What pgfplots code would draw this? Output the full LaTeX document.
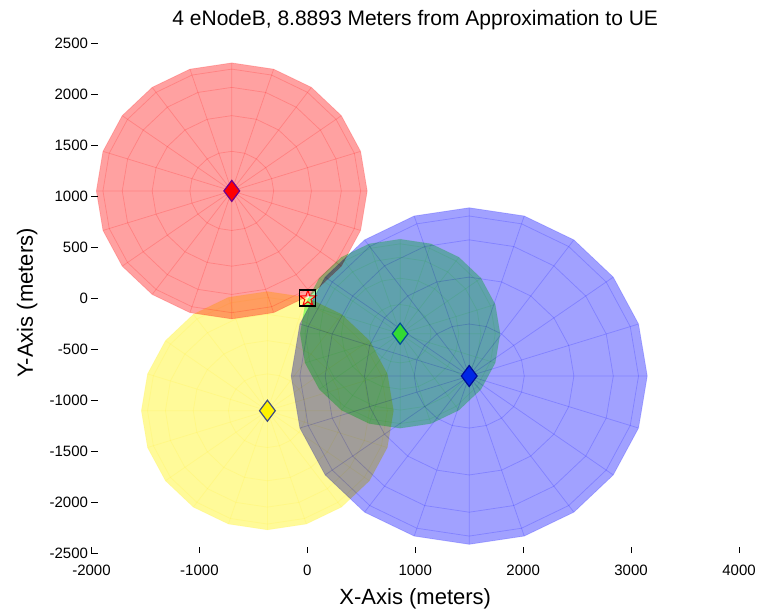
\documentclass[border=0pt]{standalone}
\usepackage{fontspec}
\setmainfont{Liberation Sans}
\usepackage{pgfplots}
\usepackage{pgfplotstable}
\pgfplotsset{compat=1.18}

\definecolor{redEdge}{rgb}{0.45,0,0.55}
\definecolor{blueFill}{rgb}{0,0.15,0.9}
\definecolor{blueEdge}{rgb}{0,0.05,0.6}
\definecolor{greenFill}{rgb}{0.2,0.85,0.2}
\definecolor{greenEdge}{rgb}{0,0.3,0.6}
\definecolor{yellowFill}{rgb}{1,0.95,0}
\definecolor{yellowEdge}{rgb}{0.25,0.3,0.5}
\definecolor{greenTint}{rgb}{0.6,1,0.68}

\pgfdeclareplotmark{pentastar}{%
  \pgfpathmoveto{\pgfpointpolar{90}{\pgfplotmarksize}}%
  \pgfpathlineto{\pgfpointpolar{126}{0.382\pgfplotmarksize}}%
  \pgfpathlineto{\pgfpointpolar{162}{\pgfplotmarksize}}%
  \pgfpathlineto{\pgfpointpolar{198}{0.382\pgfplotmarksize}}%
  \pgfpathlineto{\pgfpointpolar{234}{\pgfplotmarksize}}%
  \pgfpathlineto{\pgfpointpolar{270}{0.382\pgfplotmarksize}}%
  \pgfpathlineto{\pgfpointpolar{306}{\pgfplotmarksize}}%
  \pgfpathlineto{\pgfpointpolar{342}{0.382\pgfplotmarksize}}%
  \pgfpathlineto{\pgfpointpolar{18}{\pgfplotmarksize}}%
  \pgfpathlineto{\pgfpointpolar{54}{0.382\pgfplotmarksize}}%
  \pgfpathclose
  \pgfusepathqstroke}

% rings of each disc: angle (deg) and ring radius (m), polar data
\pgfplotstableread{
a rA rB rC rD rE bA bB bC bD bE gA gB gC gD gE yA yB yC yD yE
0   1255 1194 1015 738 388 1650 1569 1335 970 510 926 881 749 544 286 1168 1111 945 687 361
18  1255 1194 1015 738 388 1650 1569 1335 970 510 926 881 749 544 286 1168 1111 945 687 361
36  1255 1194 1015 738 388 1650 1569 1335 970 510 926 881 749 544 286 1168 1111 945 687 361
54  1255 1194 1015 738 388 1650 1569 1335 970 510 926 881 749 544 286 1168 1111 945 687 361
72  1255 1194 1015 738 388 1650 1569 1335 970 510 926 881 749 544 286 1168 1111 945 687 361
90  1255 1194 1015 738 388 1650 1569 1335 970 510 926 881 749 544 286 1168 1111 945 687 361
108 1255 1194 1015 738 388 1650 1569 1335 970 510 926 881 749 544 286 1168 1111 945 687 361
126 1255 1194 1015 738 388 1650 1569 1335 970 510 926 881 749 544 286 1168 1111 945 687 361
144 1255 1194 1015 738 388 1650 1569 1335 970 510 926 881 749 544 286 1168 1111 945 687 361
162 1255 1194 1015 738 388 1650 1569 1335 970 510 926 881 749 544 286 1168 1111 945 687 361
180 1255 1194 1015 738 388 1650 1569 1335 970 510 926 881 749 544 286 1168 1111 945 687 361
198 1255 1194 1015 738 388 1650 1569 1335 970 510 926 881 749 544 286 1168 1111 945 687 361
216 1255 1194 1015 738 388 1650 1569 1335 970 510 926 881 749 544 286 1168 1111 945 687 361
234 1255 1194 1015 738 388 1650 1569 1335 970 510 926 881 749 544 286 1168 1111 945 687 361
252 1255 1194 1015 738 388 1650 1569 1335 970 510 926 881 749 544 286 1168 1111 945 687 361
270 1255 1194 1015 738 388 1650 1569 1335 970 510 926 881 749 544 286 1168 1111 945 687 361
288 1255 1194 1015 738 388 1650 1569 1335 970 510 926 881 749 544 286 1168 1111 945 687 361
306 1255 1194 1015 738 388 1650 1569 1335 970 510 926 881 749 544 286 1168 1111 945 687 361
324 1255 1194 1015 738 388 1650 1569 1335 970 510 926 881 749 544 286 1168 1111 945 687 361
342 1255 1194 1015 738 388 1650 1569 1335 970 510 926 881 749 544 286 1168 1111 945 687 361
360 1255 1194 1015 738 388 1650 1569 1335 970 510 926 881 749 544 286 1168 1111 945 687 361
}\rings

% spokes + outline of each disc (one stroke), polar data
\pgfplotstableread{
s rr rb rg ry
0   1255 1650 926 1168
180 1255 1650 926 1168
198 1255 1650 926 1168
18  1255 1650 926 1168
36  1255 1650 926 1168
216 1255 1650 926 1168
234 1255 1650 926 1168
54  1255 1650 926 1168
72  1255 1650 926 1168
252 1255 1650 926 1168
270 1255 1650 926 1168
90  1255 1650 926 1168
108 1255 1650 926 1168
288 1255 1650 926 1168
306 1255 1650 926 1168
126 1255 1650 926 1168
144 1255 1650 926 1168
324 1255 1650 926 1168
342 1255 1650 926 1168
162 1255 1650 926 1168
180 1255 1650 926 1168
198 1255 1650 926 1168
216 1255 1650 926 1168
234 1255 1650 926 1168
252 1255 1650 926 1168
270 1255 1650 926 1168
288 1255 1650 926 1168
306 1255 1650 926 1168
324 1255 1650 926 1168
342 1255 1650 926 1168
0   1255 1650 926 1168
18  1255 1650 926 1168
36  1255 1650 926 1168
54  1255 1650 926 1168
72  1255 1650 926 1168
90  1255 1650 926 1168
108 1255 1650 926 1168
126 1255 1650 926 1168
144 1255 1650 926 1168
162 1255 1650 926 1168
}\spokes

\pgfplotsset{
  disc/.style={data cs=polar, mark=none, blend mode=multiply, line width=0.75pt},
  redc/.style={disc, shift={(axis direction cs:-700,1050)}},
  bluec/.style={disc, shift={(axis direction cs:1500,-765)}},
  greenc/.style={disc, shift={(axis direction cs:860,-350)}},
  yellowc/.style={disc, shift={(axis direction cs:-370,-1105)}},
}

\begin{document}
\begin{tikzpicture}
\path[use as bounding box] (-91.5pt,-60pt) rectangle (670.5pt,553pt);
\begin{axis}[
  scale only axis, width=647.5pt, height=510pt,
  xmin=-2000, xmax=4000, ymin=-2500, ymax=2500,
  xtick={-2000,-1000,...,4000}, ytick={-2500,-2000,...,2500},
  axis line style={draw=none},
  tick align=inside, xtick pos=left, ytick pos=left,
  major tick length=6pt,
  tick style={black, line width=0.5pt},
  scaled ticks=false,
  /pgf/number format/assume math mode=true,
  /pgf/number format/1000 sep={},
  tick label style={font=\fontsize{15}{18}\selectfont},
  xticklabel style={yshift=-8pt},
  title={4 eNodeB, 8.8893 Meters from Approximation to UE},
  title style={font=\fontsize{21}{25}\selectfont, at={(axis description cs:0.5,1.0216)}, anchor=base},
  xlabel={X-Axis (meters)}, ylabel={Y-Axis (meters)},
  xlabel style={font=\fontsize{22}{26}\selectfont, at={(axis description cs:0.5,-0.101)}, anchor=base},
  ylabel style={font=\fontsize{22}{26}\selectfont, at={(axis description cs:-0.0904,0.49)}, anchor=base},
  clip=false,
]
% red disc
\addplot[redc, fill=red!37!white, draw=none] table[x=a,y=rA]{\rings};
\addplot[redc, draw=red!18!white] table[x=a,y=rB]{\rings};
\addplot[redc, draw=red!18!white] table[x=a,y=rC]{\rings};
\addplot[redc, draw=red!18!white] table[x=a,y=rD]{\rings};
\addplot[redc, draw=red!18!white] table[x=a,y=rE]{\rings};
\addplot[redc, draw=red!18!white] table[x=s,y=rr]{\spokes};
% yellow disc
\addplot[yellowc, fill=yellow!40!white, draw=none] table[x=a,y=yA]{\rings};
\addplot[yellowc, draw=yellow!12!white] table[x=a,y=yB]{\rings};
\addplot[yellowc, draw=yellow!12!white] table[x=a,y=yC]{\rings};
\addplot[yellowc, draw=yellow!12!white] table[x=a,y=yD]{\rings};
\addplot[yellowc, draw=yellow!12!white] table[x=a,y=yE]{\rings};
\addplot[yellowc, draw=yellow!12!white] table[x=s,y=ry]{\spokes};
% blue disc
\addplot[bluec, fill=blue!37!white, draw=none] table[x=a,y=bA]{\rings};
\addplot[bluec, draw=blue!18!white] table[x=a,y=bB]{\rings};
\addplot[bluec, draw=blue!18!white] table[x=a,y=bC]{\rings};
\addplot[bluec, draw=blue!18!white] table[x=a,y=bD]{\rings};
\addplot[bluec, draw=blue!18!white] table[x=a,y=bE]{\rings};
\addplot[bluec, draw=blue!18!white] table[x=s,y=rb]{\spokes};
% green disc
\addplot[greenc, fill=greenTint, draw=none] table[x=a,y=gA]{\rings};
\addplot[greenc, draw=green!10!white] table[x=a,y=gB]{\rings};
\addplot[greenc, draw=green!10!white] table[x=a,y=gC]{\rings};
\addplot[greenc, draw=green!10!white] table[x=a,y=gD]{\rings};
\addplot[greenc, draw=green!10!white] table[x=a,y=gE]{\rings};
\addplot[greenc, draw=green!10!white] table[x=s,y=rg]{\spokes};
% eNodeB markers
\addplot[only marks, mark=diamond*, mark size=10.5pt, mark options={line width=1.2pt, fill=red, draw=redEdge}] coordinates {(-700,1050)};
\addplot[only marks, mark=diamond*, mark size=10.5pt, mark options={line width=1.2pt, fill=blueFill, draw=blueEdge}] coordinates {(1500,-765)};
\addplot[only marks, mark=diamond*, mark size=10.5pt, mark options={line width=1.2pt, fill=greenFill, draw=greenEdge}] coordinates {(860,-350)};
\addplot[only marks, mark=diamond*, mark size=10.5pt, mark options={line width=1.2pt, fill=yellowFill, draw=yellowEdge}] coordinates {(-370,-1105)};
% UE and approximation
\addplot[only marks, mark=pentastar, mark size=8.5pt, mark options={draw=red, line width=1pt}] coordinates {(5,-5)};
\addplot[only marks, mark=square, mark size=8pt, mark options={draw=black, line width=1.1pt}] coordinates {(0,0)};
\end{axis}
\end{tikzpicture}
\end{document}
